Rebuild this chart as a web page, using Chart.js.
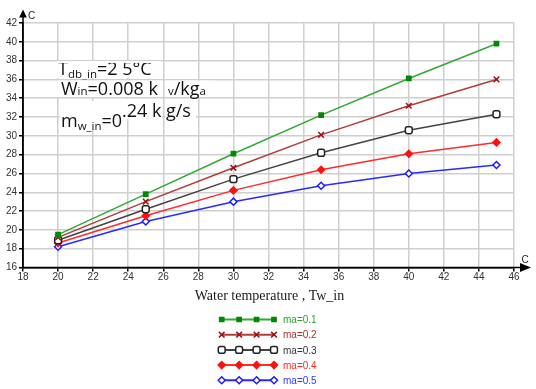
<!DOCTYPE html>
<html>
<head>
<meta charset="utf-8">
<script src="https://cdn.jsdelivr.net/npm/chart.js@4.4.1/dist/chart.umd.min.js"></script>
<style>
  html, body { margin: 0; padding: 0; background: #fff; }
  #wrap { width: 536px; height: 389px; }
</style>
</head>
<body>
<div id="wrap"><canvas id="chart" width="536" height="389"></canvas></div>
<script>
// ── Data ──
const waterTemp = [20, 25, 30, 35, 40, 45];
const seriesNames = ["ma=0.1", "ma=0.2", "ma=0.3", "ma=0.4", "ma=0.5"];
const ma01 = [19.5, 23.8, 28.1, 32.2, 36.1, 39.8];
const ma02 = [19.2, 23.0, 26.6, 30.1, 33.2, 36.0];
const ma03 = [18.9, 22.2, 25.4, 28.2, 30.6, 32.3];
const ma04 = [18.6, 21.5, 24.2, 26.4, 28.1, 29.3];
const ma05 = [18.2, 20.9, 23.0, 24.7, 26.0, 26.9];
const xTitle = "Water temperature , Tw_in";
const axisUnit = "C";

function pts(ys) { return waterTemp.map((x, i) => ({ x, y: ys[i] })); }

// ── Styles ──
const styles = [
  { line: "#33a833", point: "#008a00", fill: "#008a00", style: "rect",        r: 3,   text: "#2ca02c" },
  { line: "#b03c3c", point: "#9a1010", fill: "#9a1010", style: "crossRot",    r: 4,   text: "#a83232" },
  { line: "#444444", point: "#222222", fill: "#ffffff", style: "rectRounded", r: 4,   text: "#333333" },
  { line: "#ff2a2a", point: "#ff1010", fill: "#ff1010", style: "rectRot",     r: 3.5, text: "#ff2a2a" },
  { line: "#2a2aff", point: "#1a1aff", fill: "#ffffff", style: "rectRot",     r: 3.5, text: "#3535ff" }
];
const allSeries = [ma01, ma02, ma03, ma04, ma05];

const datasets = allSeries.map((ys, i) => ({
  label: seriesNames[i],
  data: pts(ys),
  borderColor: styles[i].line,
  borderWidth: 1.5,
  pointStyle: styles[i].style,
  pointRadius: styles[i].r,
  pointBorderColor: styles[i].point,
  pointBackgroundColor: styles[i].fill,
  pointBorderWidth: 1.5,
  tension: 0
}));

// ── Helpers for drawing the overlay ──
function drawMarker(ctx, s, x, y) {
  const opts = { pointStyle: s.style, radius: s.r, borderWidth: 1.5, rotation: 0 };
  ctx.save();
  ctx.strokeStyle = s.point;
  ctx.fillStyle = s.fill;
  ctx.lineWidth = 1.5;
  if (Chart.helpers && Chart.helpers.drawPoint) {
    Chart.helpers.drawPoint(ctx, opts, x, y);
  } else {
    ctx.beginPath();
    ctx.rect(x - s.r, y - s.r, s.r * 2, s.r * 2);
    ctx.fill(); ctx.stroke();
  }
  ctx.restore();
}

// draw a run of [text, size, dy] pieces starting at x on baseline y
function drawRun(ctx, pieces, x, y) {
  for (const [t, size, dy] of pieces) {
    ctx.font = size + "px 'Open Sans', 'Liberation Sans', sans-serif";
    ctx.fillText(t, x, y + dy);
    x += ctx.measureText(t).width;
  }
  return x;
}

function whiteBox(ctx, x, y, w, h) {
  ctx.fillStyle = "#fff";
  ctx.fillRect(x, y, w, h);
  ctx.fillStyle = "#111";
}

function clipped(ctx, x, y, w, h, fn) {
  ctx.save();
  ctx.beginPath(); ctx.rect(x, y, w, h); ctx.clip();
  fn();
  ctx.restore();
}

const overlay = {
  id: "overlay",
  afterDraw(chart) {
    const ctx = chart.ctx;
    const { left, bottom } = chart.chartArea;

    // axis arrows + unit labels
    ctx.save();
    ctx.fillStyle = "#000";
    ctx.strokeStyle = "#000";
    ctx.lineWidth = 1.5;
    ctx.beginPath();
    ctx.moveTo(left, bottom); ctx.lineTo(left, 16);
    ctx.moveTo(left, bottom); ctx.lineTo(521, bottom);
    ctx.stroke();
    ctx.beginPath();
    ctx.moveTo(left, 9.5); ctx.lineTo(left - 3.8, 17.5); ctx.lineTo(left + 3.8, 17.5);
    ctx.closePath(); ctx.fill();
    ctx.beginPath();
    ctx.moveTo(531, bottom); ctx.lineTo(520, bottom - 4.5); ctx.lineTo(520, bottom + 4.5);
    ctx.closePath(); ctx.fill();
    ctx.font = "10px 'Liberation Sans', Arial, sans-serif";
    ctx.fillStyle = "#222";
    ctx.textBaseline = "middle";
    ctx.textAlign = "left";
    ctx.fillText(axisUnit, 28, 16);
    ctx.fillText(axisUnit, 521.5, 260.5);

    // x axis title
    ctx.font = "14px 'Liberation Serif', 'Times New Roman', serif";
    ctx.fillStyle = "#1a1a1a";
    ctx.textAlign = "center";
    ctx.fillText(xTitle, 269.5, 296.5);
    ctx.restore();

    // legend
    ctx.save();
    const lx0 = 221.7, lx1 = 274, ly0 = 319.5, step = 15.2;
    const mStep = (lx1 - lx0) / 3;
    chart.data.datasets.forEach((ds, i) => {
      const s = styles[i];
      const y = ly0 + i * step;
      ctx.strokeStyle = s.line;
      ctx.lineWidth = 2;
      ctx.beginPath(); ctx.moveTo(lx0, y); ctx.lineTo(lx1, y); ctx.stroke();
      for (let k = 0; k < 4; k++) drawMarker(ctx, s, lx0 + k * mStep, y);
      ctx.font = "10px 'Liberation Sans', Arial, sans-serif";
      ctx.fillStyle = s.text;
      ctx.textBaseline = "middle";
      ctx.textAlign = "left";
      ctx.fillText(ds.label, 283, y + 1);
    });
    ctx.restore();

    // annotation block (inlet conditions) - pieces are clipped like the reference
    ctx.save();
    ctx.textBaseline = "alphabetic";
    ctx.textAlign = "left";
    // row 1 : T db_in = 25 °C
    whiteBox(ctx, 57, 61, 104, 17);
    clipped(ctx, 57, 63, 104, 16.5, () =>
      drawRun(ctx, [["T", 18, 0], ["db_in", 11.5, 3], ["=2", 18, 0], [" 5°C", 18, 0]], 58, 74.5));
    // row 2 : W in = 0.008 kg v / kg a
    whiteBox(ctx, 57, 80.5, 105, 16.5);
    whiteBox(ctx, 165, 80.5, 50, 16.5);
    drawRun(ctx, [["W", 18, 0], ["in", 11.5, 0], ["=0.008 k", 18, 0]], 61, 94.5);
    drawRun(ctx, [["v", 11.5, 0], ["/kg", 18, 0], ["a", 11.5, 0]], 168, 94.5);
    // row 3 : m w_in = 0.24 kg/s  (split across two baselines)
    whiteBox(ctx, 60, 101, 65, 28);
    whiteBox(ctx, 124, 99, 38, 20);
    whiteBox(ctx, 165, 99, 31, 20);
    drawRun(ctx, [["m", 18, 0], ["w_in", 11.5, 3], ["=0", 18, 0]], 61, 126.7);
    clipped(ctx, 120, 98, 42, 22, () => drawRun(ctx, [[".24 k", 18, 0]], 122, 116.5));
    drawRun(ctx, [["g/s", 18, 0]], 166, 116.5);
    ctx.restore();
  }
};

// ── Chart ──
const tickFont = { family: "'Liberation Sans', Arial, sans-serif", size: 10 };

new Chart(document.getElementById("chart"), {
  type: "line",
  data: { datasets },
  options: {
    responsive: false,
    animation: false,
    devicePixelRatio: 1,
    layout: { padding: { left: 0, top: 23, right: 22, bottom: 101.5 } },
    plugins: { legend: { display: false }, tooltip: { enabled: false } },
    scales: {
      x: {
        type: "linear",
        min: 18, max: 46,
        ticks: { stepSize: 2, color: "#333", font: tickFont, padding: 0, maxRotation: 0 },
        grid: { color: "#cfcfcf", lineWidth: 1.5, tickColor: "#000", tickLength: 4 },
        border: { color: "#000", width: 1.5 },
        afterFit(scale) { scale.height = 20; }
      },
      y: {
        min: 16, max: 42,
        ticks: { stepSize: 2, color: "#333", font: tickFont, padding: 2 },
        grid: { color: "#cfcfcf", lineWidth: 1.5, tickColor: "#000", tickLength: 4 },
        border: { color: "#000", width: 1.5 },
        afterFit(scale) { scale.width = 23; }
      }
    }
  },
  plugins: [overlay]
});
</script>
</body>
</html>
